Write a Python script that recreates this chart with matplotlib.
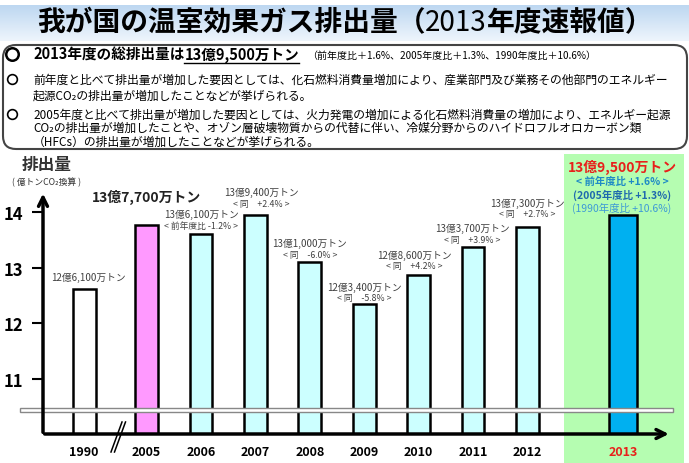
import numpy as np
import matplotlib.pyplot as plt
from matplotlib.patches import Rectangle, FancyBboxPatch
from matplotlib.colors import LinearSegmentedColormap

plt.rcParams['font.family'] = ['Noto Sans CJK JP', 'DejaVu Sans']

# data
years = ['1990', '2005', '2006', '2007', '2008', '2009', '2010', '2011', '2012', '2013']
emissions = [12.61, 13.77, 13.61, 13.94, 13.10, 12.34, 12.86, 13.37, 13.73, 13.95]  # 億トンCO2
amount_labels = ['12億6,100万トン', '13億7,700万トン', '13億6,100万トン', '13億9,400万トン',
                 '13億1,000万トン', '12億3,400万トン', '12億8,600万トン', '13億3,700万トン',
                 '13億7,300万トン', '13億9,500万トン']
change_labels = ['', '', '< 前年度比 -1.2% >', '< 同　+2.4% >', '< 同　-6.0% >',
                 '< 同　-5.8% >', '< 同　+4.2% >', '< 同　+3.9% >', '< 同　+2.7% >', '']
latest_notes = ['< 前年度比 +1.6% >', '(2005年度比 +1.3%)', '(1990年度比 +10.6%)']
y_ticks = [11, 12, 13, 14]

title_parts = ['我が国の温室効果ガス排出量（', '2013', '年度速報値）']
lines = [
    '前年度と比べて排出量が増加した要因としては、化石燃料消費量増加により、産業部門及び業務その他部門のエネルギー',
    '起源CO₂の排出量が増加したことなどが挙げられる。',
    '2005年度と比べて排出量が増加した要因としては、火力発電の増加による化石燃料消費量の増加により、エネルギー起源',
    'CO₂の排出量が増加したことや、オゾン層破壊物質からの代替に伴い、冷媒分野からのハイドロフルオロカーボン類',
    '（HFCs）の排出量が増加したことなどが挙げられる。',
]

# layout (pixels)
W, H = 689, 464
xpos = [-1.15, 0, 1, 2, 3, 4, 5, 6, 7, 8.76]
widths = [0.42] * 9 + [0.51]
colors = ['white', '#FF99FF'] + ['#CCFFFF'] * 7 + ['#00B0F0']
ybot, ytop = 10.014, 15.13
xmin, xmax = -1.906, 9.97

fig = plt.figure(figsize=(W / 100, H / 100), dpi=100)
renderer = fig.canvas.get_renderer()

# background layer in pixel coordinates
bg = fig.add_axes([0, 0, 1, 1])
bg.set_xlim(0, W)
bg.set_ylim(H, 0)
bg.axis('off')

grad = np.linspace(0, 1, 64).reshape(-1, 1)
cmap = LinearSegmentedColormap.from_list('band', ['#BDD7F1', '#EEF5FC'])
bg.imshow(grad, extent=(0, W, 42, 6), aspect='auto', cmap=cmap, zorder=0)

# title, "2013" in normal weight
tt = []
x = 0
for part, wt in zip(title_parts, ['bold', 'normal', 'bold']):
    t = bg.text(x, 23, part, va='center', fontsize=20, fontweight=wt)
    x = t.get_window_extent(renderer).x1
    tt.append(t)
shift = 345 - x / 2
for t in tt:
    t.set_x(t.get_window_extent(renderer).x0 + shift)

bg.add_patch(FancyBboxPatch((3, 46), 684, 104, boxstyle='round,pad=0,rounding_size=13',
                            fc='white', ec='#444444', lw=1.5, zorder=1))
bg.add_patch(Rectangle((564, 155), 120, 309, fc='#B5FDB1', ec='none', zorder=1))

bg.plot(12, 55, 'o', ms=9, mfc='white', mec='black', mew=1.8, zorder=3)
t1 = bg.text(33, 55, '2013年度の総排出量は', va='center', fontsize=10.5, fontweight='bold', zorder=3)
x1 = t1.get_window_extent(renderer).x1
t2 = bg.text(x1, 55, '13億9,500万トン', va='center', fontsize=10.5, fontweight='bold', zorder=3)
b2 = t2.get_window_extent(renderer)
bg.plot([b2.x0, b2.x1], [63.5, 63.5], color='black', lw=1, zorder=3)
bg.text(b2.x1 + 8, 56, '（前年度比＋1.6%、2005年度比＋1.3%、1990年度比＋10.6%）',
        va='center', fontsize=7.2, zorder=3)

for yy in (80, 115):
    bg.plot(12, yy, 'o', ms=7, mfc='white', mec='black', mew=1.2, zorder=3)
for s, yy in zip(lines, [80, 96, 115, 128.5, 142]):
    bg.text(33, yy, s, va='center', fontsize=8.5, zorder=3)

bg.text(47, 165, '排出量', ha='center', va='center', fontsize=12, fontweight='bold', color='#333333')
bg.text(47, 182, '( 億トンCO₂換算 )', ha='center', va='center', fontsize=6.3, color='#333333')

# break marks on the x axis
bg.plot([111, 122], [453, 423], color='black', lw=1.1)
bg.plot([114.5, 125.5], [453, 423], color='black', lw=1.1)

# 2013 notes
bg.text(622, 167, amount_labels[-1], ha='center', va='center', fontsize=10,
        fontweight='bold', color='#E8201B', zorder=3)
bg.text(622, 182, latest_notes[0], ha='center', va='center', fontsize=7.5,
        fontweight='bold', color='#1E8AC6', zorder=3)
bg.text(622, 195, latest_notes[1], ha='center', va='center', fontsize=7.5,
        fontweight='bold', color='#1F6AAE', zorder=3)
bg.text(622, 208, latest_notes[2], ha='center', va='center', fontsize=7.5,
        color='#3D9AD6', zorder=3)

# chart
ax = fig.add_axes([43 / W, (H - 435) / H, (W - 43) / W, (435 - 150) / H])
ax.patch.set_alpha(0)
ax.set_xlim(xmin, xmax)
ax.set_ylim(ybot, ytop)
for sp in ax.spines.values():
    sp.set_visible(False)

vals = np.array(emissions)
ax.bar(xpos, vals - ybot, bottom=ybot, width=widths, color=colors,
       edgecolor='black', linewidth=1.8, zorder=2)

ax.add_patch(Rectangle((-2.33, 10.41), 12.0, 0.07, fc='white', ec='#888888', lw=1,
                       zorder=4, clip_on=False))

ax.annotate('', xy=(xmin, 14.38), xytext=(xmin, ybot - 0.02),
            arrowprops=dict(arrowstyle='->', lw=2.5, color='black', mutation_scale=16),
            annotation_clip=False, zorder=5)
ax.annotate('', xy=(9.65, ybot), xytext=(xmin - 0.02, ybot),
            arrowprops=dict(arrowstyle='->', lw=2.5, color='black', mutation_scale=16),
            annotation_clip=False, zorder=5)

ax.set_yticks(y_ticks)
ax.set_yticklabels([str(v) for v in y_ticks], fontsize=12, fontweight='bold')
ax.tick_params(axis='y', length=8, width=1.5, pad=6, direction='out')
ax.set_xticks([])

for x, yr in zip(xpos, years):
    ax.annotate(yr, xy=(x, ybot), xytext=(0, -18 * 0.72), textcoords='offset points',
                ha='center', va='center', fontsize=9, fontweight='bold',
                color='#E8201B' if yr == '2013' else 'black', annotation_clip=False)

# bar value labels: pixel offsets above the bar top
dx_px = [4, 0, 0, 6, 0, 0, -4, -1, 0]
gap_px = [12, 28, 8, 12, 8, 6.5, 9.5, 8, 13]
for i in range(9):
    x, v = xpos[i], emissions[i]
    if i == 1:
        ax.annotate(amount_labels[i], xy=(x, v), xytext=(dx_px[i] * 0.72, gap_px[i] * 0.72),
                    textcoords='offset points', ha='center', va='center',
                    fontsize=10, fontweight='bold', color='#222222')
        continue
    if change_labels[i]:
        ax.annotate(change_labels[i], xy=(x, v), xytext=(dx_px[i] * 0.72, gap_px[i] * 0.72),
                    textcoords='offset points', ha='center', va='center',
                    fontsize=6.3, color='#404040')
        off = gap_px[i] + 11.5
    else:
        off = gap_px[i]
    ax.annotate(amount_labels[i], xy=(x, v), xytext=(dx_px[i] * 0.72, off * 0.72),
                textcoords='offset points', ha='center', va='center',
                fontsize=7, color='#404040')

fig.savefig('out.png', dpi=100)
